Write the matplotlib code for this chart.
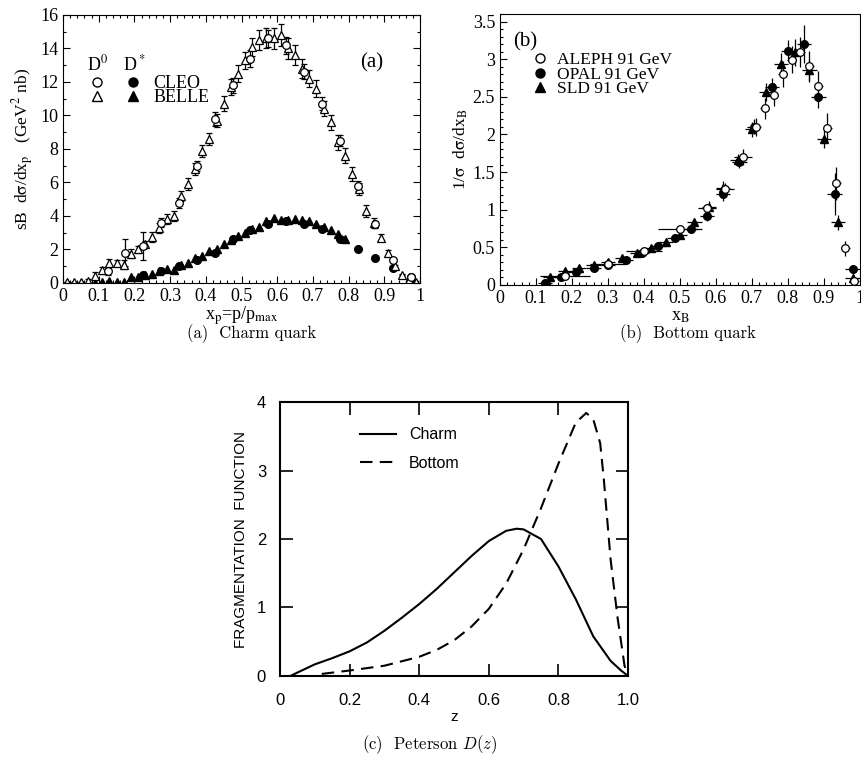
import matplotlib
matplotlib.use("Agg")
import matplotlib.pyplot as plt
from matplotlib.ticker import MultipleLocator
from matplotlib.legend_handler import HandlerTuple
from matplotlib.lines import Line2D

# ---------------- Panel (a): charm ----------------
belle_d0_x = [0.01, 0.03, 0.05, 0.07, 0.09, 0.11, 0.13, 0.15, 0.17, 0.19,
              0.21, 0.23, 0.25, 0.27, 0.29, 0.31, 0.33, 0.35, 0.37, 0.39,
              0.41, 0.43, 0.45, 0.47, 0.49, 0.51, 0.53, 0.55, 0.57, 0.59,
              0.61, 0.63, 0.65, 0.67, 0.69, 0.71, 0.73, 0.75, 0.77, 0.79,
              0.81, 0.83, 0.85, 0.87, 0.89, 0.91, 0.93, 0.95, 0.97, 0.99]
belle_d0_y = [0.05, 0.05, 0.05, 0.12, 0.42, 0.75, 1.2, 1.2, 1.1, 1.75,
              2.0, 2.3, 2.75, 3.3, 3.8, 4.0, 5.2, 5.9, 6.8, 7.9,
              8.6, 9.7, 10.7, 11.7, 12.5, 13.3, 14.1, 14.5, 14.6, 14.6,
              14.8, 14.0, 13.6, 12.8, 12.2, 11.6, 10.4, 9.6, 8.4, 7.6,
              6.5, 5.6, 4.3, 3.6, 2.7, 1.8, 1.0, 0.5, 0.2, 0.05]
belle_d0_err = [0.0, 0.0, 0.0, 0.1, 0.25, 0.2, 0.25, 0.2, 0.25, 0.25,
                0.2, 0.2, 0.3, 0.3, 0.3, 0.3, 0.3, 0.35, 0.35, 0.35,
                0.35, 0.4, 0.45, 0.5, 0.5, 0.5, 0.55, 0.6, 0.6, 0.65,
                0.65, 0.6, 0.6, 0.55, 0.5, 0.5, 0.45, 0.45, 0.45, 0.45,
                0.4, 0.35, 0.35, 0.3, 0.2, 0.15, 0.1, 0.05, 0.05, 0.05]

cleo_x = [0.125, 0.175, 0.225, 0.275, 0.325, 0.375, 0.425, 0.475, 0.525,
          0.575, 0.625, 0.675, 0.725, 0.775, 0.825, 0.875, 0.925, 0.975]
cleo_d0_y = [0.7, 1.8, 2.2, 3.6, 4.8, 7.0, 9.8, 11.8, 13.4,
             14.6, 14.2, 12.6, 10.7, 8.5, 5.8, 3.5, 1.4, 0.35]
cleo_d0_err = [0.2, 0.8, 0.85, 0.25, 0.3, 0.3, 0.4, 0.45, 0.5,
               0.5, 0.5, 0.45, 0.4, 0.35, 0.3, 0.2, 0.1, 0.05]

cleo_ds_x = [0.225, 0.275, 0.325, 0.375, 0.425, 0.475, 0.525, 0.575,
             0.625, 0.675, 0.725, 0.775, 0.825, 0.875, 0.925, 0.975]
cleo_ds_y = [0.45, 0.7, 1.0, 1.4, 1.8, 2.6, 3.15, 3.55,
             3.7, 3.55, 3.2, 2.65, 2.05, 1.5, 0.9, 0.35]

belle_ds_x = belle_d0_x[:40]
belle_ds_y = [0.02, 0.02, 0.02, 0.02, 0.02, 0.05, 0.12, 0.05, 0.08, 0.35,
              0.35, 0.5, 0.55, 0.7, 0.85, 0.8, 1.1, 1.2, 1.5, 1.6,
              1.9, 2.0, 2.35, 2.55, 2.8, 3.0, 3.2, 3.35, 3.7, 3.85,
              3.75, 3.75, 3.8, 3.75, 3.7, 3.5, 3.35, 3.15, 2.9, 2.65]

# ---------------- Panel (b): bottom ----------------
aleph_x = [0.18, 0.30, 0.40, 0.50, 0.575, 0.625, 0.675, 0.71, 0.735, 0.76,
           0.785, 0.81, 0.835, 0.86, 0.885, 0.91, 0.935, 0.96, 0.985]
aleph_y = [0.12, 0.28, 0.45, 0.74, 1.02, 1.27, 1.70, 2.10, 2.35, 2.53,
           2.80, 2.99, 3.10, 2.91, 2.64, 2.09, 1.35, 0.49, 0.05]
aleph_xerr = [0.07, 0.05, 0.05, 0.06, 0.025, 0.025, 0.025, 0.0125, 0.0125, 0.0125,
              0.0125, 0.0125, 0.0125, 0.0125, 0.0125, 0.0125, 0.0125, 0.0125, 0.0125]
aleph_yerr = [0.03, 0.03, 0.04, 0.05, 0.06, 0.08, 0.1, 0.12, 0.14, 0.15,
              0.17, 0.18, 0.2, 0.2, 0.2, 0.2, 0.22, 0.1, 0.03]

opal_x = [0.125, 0.17, 0.21, 0.26, 0.30, 0.35, 0.395, 0.44, 0.485, 0.53,
          0.575, 0.62, 0.665, 0.705, 0.755, 0.80, 0.845, 0.885, 0.93, 0.98]
opal_y = [0.03, 0.11, 0.17, 0.22, 0.27, 0.33, 0.42, 0.52, 0.63, 0.74,
          0.92, 1.21, 1.63, 2.10, 2.63, 3.11, 3.20, 2.50, 1.21, 0.21]
opal_xerr = [0.02] * 20
opal_yerr = [0.02, 0.03, 0.03, 0.03, 0.03, 0.03, 0.04, 0.04, 0.05, 0.05,
             0.07, 0.09, 0.08, 0.1, 0.12, 0.14, 0.25, 0.15, 0.28, 0.05]

sld_x = [0.14, 0.18, 0.22, 0.26, 0.30, 0.34, 0.38, 0.42, 0.46, 0.50, 0.54,
         0.58, 0.62, 0.66, 0.70, 0.74, 0.78, 0.82, 0.86, 0.90, 0.94, 0.98]
sld_y = [0.11, 0.19, 0.23, 0.26, 0.30, 0.36, 0.42, 0.49, 0.57, 0.67, 0.83,
         1.04, 1.29, 1.66, 2.07, 2.56, 2.93, 3.09, 2.85, 1.94, 0.83, 0.09]
sld_xerr = [0.02] * 22
sld_yerr = [0.02, 0.02, 0.02, 0.02, 0.03, 0.03, 0.03, 0.03, 0.04, 0.04, 0.05,
            0.07, 0.09, 0.08, 0.1, 0.12, 0.15, 0.18, 0.15, 0.12, 0.1, 0.05]

# ---------------- Panel (c): Peterson ----------------
charm_z = [0.03, 0.05, 0.10, 0.15, 0.20, 0.25, 0.30, 0.35, 0.40, 0.45, 0.50,
           0.55, 0.60, 0.65, 0.68, 0.70, 0.75, 0.80, 0.85, 0.90, 0.95, 0.98, 1.0]
charm_d = [0.0, 0.05, 0.17, 0.26, 0.36, 0.49, 0.66, 0.85, 1.05, 1.27, 1.51,
           1.75, 1.97, 2.12, 2.15, 2.14, 2.0, 1.6, 1.12, 0.58, 0.22, 0.08, 0.0]
bottom_z = [0.12, 0.20, 0.30, 0.40, 0.45, 0.50, 0.55, 0.60, 0.65, 0.70, 0.75,
            0.80, 0.85, 0.88, 0.90, 0.92, 0.93, 0.95, 0.97, 0.99, 1.0]
bottom_d = [0.03, 0.08, 0.15, 0.28, 0.38, 0.52, 0.72, 0.98, 1.35, 1.85, 2.45,
            3.1, 3.7, 3.84, 3.75, 3.4, 2.9, 1.7, 0.85, 0.15, 0.0]

SERIF = "Liberation Serif"
SANS = "Liberation Sans"
TICK_FS = 13

fig = plt.figure(figsize=(8.61, 7.64), dpi=100)

# ======== (a) ========
axa = fig.add_axes([0.0732, 0.6296, 0.4146, 0.3508])
mk = dict(markersize=5.5, markeredgewidth=0.9, linestyle="none")
axa.errorbar(belle_d0_x, belle_d0_y, yerr=belle_d0_err, fmt="^", mfc="white",
             mec="black", ecolor="black", elinewidth=0.9, capsize=2.5,
             capthick=0.9, **mk)
axa.errorbar(cleo_x, cleo_d0_y, yerr=cleo_d0_err, fmt="o", mfc="white",
             mec="black", ecolor="black", elinewidth=0.9, capsize=2.5,
             capthick=0.9, **mk)
axa.plot(cleo_ds_x, cleo_ds_y, "o", color="black", markersize=5.5)
axa.plot(belle_ds_x, belle_ds_y, "^", color="black", markersize=5.5)
axa.set_xlim(0, 1)
axa.set_ylim(0, 16)
axa.xaxis.set_minor_locator(MultipleLocator(0.02))
axa.yaxis.set_minor_locator(MultipleLocator(1))
axa.tick_params(which="both", direction="in", top=True, right=True,
                labelsize=TICK_FS, width=0.8)
axa.tick_params(which="major", length=5)
axa.tick_params(which="minor", length=2.5)
axa.set_xticks([0, 0.1, 0.2, 0.3, 0.4, 0.5, 0.6, 0.7, 0.8, 0.9, 1.0])
axa.set_xticklabels(["0", "0.1", "0.2", "0.3", "0.4", "0.5", "0.6", "0.7",
                     "0.8", "0.9", "1"], fontfamily=SERIF)
axa.set_yticks([0, 2, 4, 6, 8, 10, 12, 14, 16])
axa.set_yticklabels(["0", "2", "4", "6", "8", "10", "12", "14", "16"],
                    fontfamily=SERIF)
axa.set_xlabel(r"x$_\mathrm{p}$=p/p$_\mathrm{max}$", fontfamily=SERIF,
               fontsize=13, labelpad=0, math_fontfamily="stix")
axa.set_ylabel(r"sB  d$\mathrm{\sigma}$/dx$_\mathrm{p}$   (GeV$^2$ nb)",
               fontfamily=SERIF, fontsize=12.5, labelpad=3, math_fontfamily="stix")
axa.text(0.865, 0.82, "(a)", transform=axa.transAxes, fontfamily=SERIF,
         fontsize=15, ha="center", va="center")
h1 = Line2D([], [], marker="o", mfc="white", mec="black", ls="none", markersize=6.5)
h2 = Line2D([], [], marker="o", color="black", ls="none", markersize=6.5)
h3 = Line2D([], [], marker="^", mfc="white", mec="black", ls="none", markersize=6.5)
h4 = Line2D([], [], marker="^", color="black", ls="none", markersize=6.5)
axa.legend([(h1, h2), (h3, h4)], ["CLEO", "BELLE"],
           handler_map={tuple: HandlerTuple(ndivide=None, pad=1.0)},
           loc="upper left", bbox_to_anchor=(0.065, 0.782), frameon=False,
           prop={"family": SERIF, "size": 13}, handlelength=3.0,
           handletextpad=0.6, labelspacing=-0.15, borderpad=0.1,
           borderaxespad=0.0)
axa.text(0.098, 0.815, r"D$^0$", transform=axa.transAxes, fontfamily=SERIF,
         fontsize=13, ha="center", va="center", math_fontfamily="stix")
axa.text(0.2, 0.815, r"D$^*$", transform=axa.transAxes, fontfamily=SERIF,
         fontsize=13, ha="center", va="center", math_fontfamily="stix")

# ======== (b) ========
axb = fig.add_axes([0.5807, 0.627, 0.418, 0.3547])
eb = dict(ecolor="black", elinewidth=0.9, capsize=0, linestyle="none")
axb.errorbar(sld_x, sld_y, xerr=sld_xerr, yerr=sld_yerr, fmt="^",
             color="black", markersize=5.5, **eb)
axb.errorbar(opal_x, opal_y, xerr=opal_xerr, yerr=opal_yerr, fmt="o",
             color="black", markersize=5.5, **eb)
axb.errorbar(aleph_x, aleph_y, xerr=aleph_xerr, yerr=aleph_yerr, fmt="o",
             mfc="white", mec="black", markersize=5.5, markeredgewidth=0.9, **eb)
axb.set_xlim(0, 1)
axb.set_ylim(0, 3.6)
axb.xaxis.set_minor_locator(MultipleLocator(0.02))
axb.yaxis.set_minor_locator(MultipleLocator(0.1))
axb.tick_params(which="both", direction="in", labelsize=TICK_FS, width=0.8)
axb.tick_params(which="major", length=5)
axb.tick_params(which="minor", length=2.5)
axb.set_xticks([0, 0.1, 0.2, 0.3, 0.4, 0.5, 0.6, 0.7, 0.8, 0.9, 1.0])
axb.set_xticklabels(["0", "0.1", "0.2", "0.3", "0.4", "0.5", "0.6", "0.7",
                     "0.8", "0.9", "1"], fontfamily=SERIF)
axb.set_yticks([0, 0.5, 1, 1.5, 2, 2.5, 3, 3.5])
axb.set_yticklabels(["0", "0.5", "1", "1.5", "2", "2.5", "3", "3.5"],
                    fontfamily=SERIF)
axb.set_xlabel(r"x$_\mathrm{B}$", fontfamily=SERIF, fontsize=13, labelpad=1,
               math_fontfamily="stix")
axb.set_ylabel(r"1/$\mathrm{\sigma}$  d$\mathrm{\sigma}$/dx$_\mathrm{B}$",
               fontfamily=SERIF, fontsize=12.5, labelpad=2, math_fontfamily="stix")
axb.text(0.07, 0.897, "(b)", transform=axb.transAxes, fontfamily=SERIF,
         fontsize=15, ha="center", va="center")
g1 = Line2D([], [], marker="o", mfc="white", mec="black", ls="none", markersize=6.5)
g2 = Line2D([], [], marker="o", color="black", ls="none", markersize=6.5)
g3 = Line2D([], [], marker="^", color="black", ls="none", markersize=6.5)
axb.legend([g1, g2, g3], ["ALEPH 91 GeV", "OPAL 91 GeV", "SLD 91 GeV"],
           loc="upper left", bbox_to_anchor=(0.085, 0.865), frameon=False,
           prop={"family": SERIF, "size": 12.5}, handlelength=0.9,
           handletextpad=0.5, labelspacing=-0.1, borderpad=0.1,
           borderaxespad=0.0)

# ======== (c) ========
axc = fig.add_axes([0.3252, 0.1152, 0.4042, 0.3586])
axc.plot(charm_z, charm_d, color="black", lw=1.5, ls="-", label="Charm")
axc.plot(bottom_z, bottom_d, color="black", lw=1.5, ls=(0, (6, 3.5)),
         label="Bottom")
axc.set_xlim(0, 1)
axc.set_ylim(0, 4)
axc.set_xticks([0, 0.2, 0.4, 0.6, 0.8, 1.0])
axc.set_xticklabels(["0", "0.2", "0.4", "0.6", "0.8", "1.0"], fontfamily=SANS)
axc.set_yticks([0, 1, 2, 3, 4])
axc.set_yticklabels(["0", "1", "2", "3", "4"], fontfamily=SANS)
axc.tick_params(which="major", direction="in", top=True, right=True,
                length=9, width=1.2, labelsize=12)
axc.tick_params(axis="x", pad=12)
axc.tick_params(axis="y", pad=10)
for sp in axc.spines.values():
    sp.set_linewidth(1.5)
axc.set_xlabel("z", fontfamily=SANS, fontsize=11, labelpad=2)
axc.set_ylabel("FRAGMENTATION  FUNCTION", fontfamily=SANS, fontsize=11,
               labelpad=6)
axc.legend(loc="upper left", bbox_to_anchor=(0.19, 0.96), frameon=False,
           prop={"family": SANS, "size": 11.5}, handlelength=2.2,
           handletextpad=0.85, labelspacing=0.85)

# ======== captions ========
CM = "cmr10"
fig.text(252 / 861, 1 - 334 / 764, "(a)  Charm quark", fontfamily=CM,
         fontsize=12, ha="center", va="center")
fig.text(688 / 861, 1 - 334 / 764, "(b)  Bottom quark", fontfamily=CM,
         fontsize=12, ha="center", va="center")
fig.text(430 / 861, 1 - 745 / 764, r"(c)  Peterson $D(z)$", fontfamily=CM,
         fontsize=12, ha="center", va="center", math_fontfamily="cm")

fig.savefig("out.png", dpi=100)
